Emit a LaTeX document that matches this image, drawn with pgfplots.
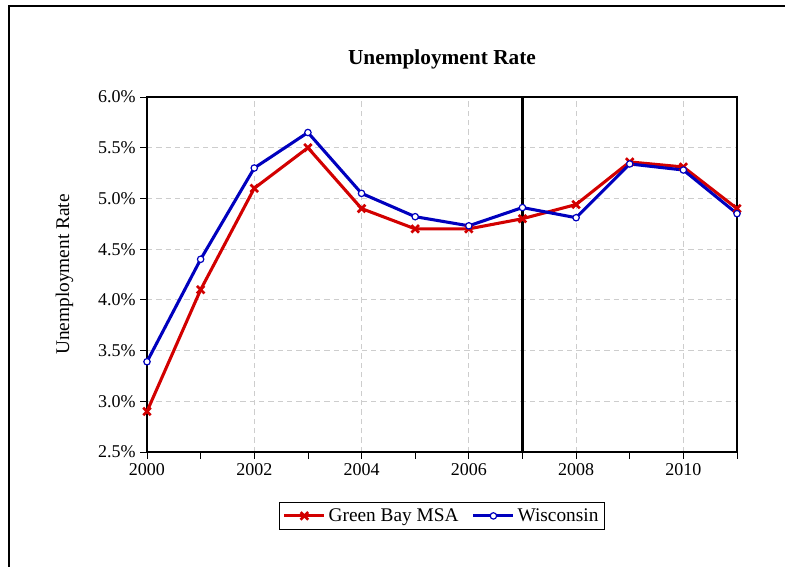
\documentclass[border=0pt]{standalone}
\usepackage{fontspec}
\setmainfont{Liberation Serif}
\usepackage{pgfplots}
\pgfplotsset{compat=1.18}
\definecolor{gbred}{RGB}{210,0,0}
\definecolor{wiblue}{RGB}{0,0,190}
\definecolor{gridgray}{RGB}{205,205,205}
\begin{document}
\begin{tikzpicture}
\useasboundingbox (0,0) rectangle (588.75pt,-425.25pt);
\draw[line width=1.6pt] (588.75pt,-4.5pt) -- (6.75pt,-4.5pt) -- (6.75pt,-425.25pt);
\begin{axis}[
  at={(110.25pt,-339pt)}, anchor=south west,
  scale only axis, width=442.5pt, height=266.25pt,
  xmin=2000, xmax=2011, ymin=2.5, ymax=6.0,
  xtick={2000,2002,...,2010},
  minor xtick={2001,2003,...,2011},
  ytick={2.5,3.0,...,6.0},
  /pgf/number format/assume math mode=true,
  yticklabel={\pgfmathprintnumber[fixed,fixed zerofill,precision=1,assume math mode=true]{\tick}\%},
  xticklabel={\pgfmathprintnumber[1000 sep={},assume math mode=true]{\tick}},
  tick label style={font=\fontsize{13.5}{15}\selectfont},
  tick align=outside, tick pos=left,
  major tick length=5pt, minor tick length=5pt,
  every tick/.style={black, line width=0.6pt},
  axis line style={line width=0.8pt},
  xmajorgrids, ymajorgrids,
  major grid style={gridgray, dashed, dash pattern=on 4pt off 3pt, line width=0.6pt},
  title={Unemployment Rate},
  title style={font=\fontsize{16}{19}\selectfont\bfseries, at={(axis description cs:0.5,1.082)}, anchor=center},
  ylabel={Unemployment Rate},
  ylabel style={font=\fontsize{14.5}{16}\selectfont, at={(axis description cs:-0.14,0.5)}, anchor=center},
  legend columns=2,
  legend style={at={(axis description cs:0.5,-0.18)}, anchor=center, draw=black, line width=0.6pt,
    font=\fontsize{14.5}{16}\selectfont, inner sep=2.5pt,
    /tikz/every even column/.append style={column sep=8pt}},
  legend image code/.code={\draw[#1] (0pt,0pt) -- (15pt,0pt) -- (30pt,0pt); \draw[#1, only marks] plot coordinates {(15pt,0pt)};},
  clip=false,
]
\addplot[gbred, line width=2.3pt, mark=x, mark size=4pt, mark options={line width=2pt}]
  coordinates {(2000,2.9) (2001,4.1) (2002,5.1) (2003,5.5) (2004,4.9) (2005,4.7) (2006,4.7) (2007,4.8) (2008,4.94) (2009,5.36) (2010,5.31) (2011,4.9)};
\addlegendentry{Green Bay MSA}
\addplot[wiblue, line width=2.3pt, mark=*, mark size=2.4pt, mark options={fill=white, draw=wiblue, line width=0.9pt}]
  coordinates {(2000,3.39) (2001,4.4) (2002,5.3) (2003,5.65) (2004,5.05) (2005,4.82) (2006,4.73) (2007,4.91) (2008,4.81) (2009,5.34) (2010,5.28) (2011,4.85)};
\addlegendentry{Wisconsin}
\draw[black, line width=2.2pt] (axis cs:2007,2.5) -- (axis cs:2007,6.0);
\end{axis}
\end{tikzpicture}
\end{document}
